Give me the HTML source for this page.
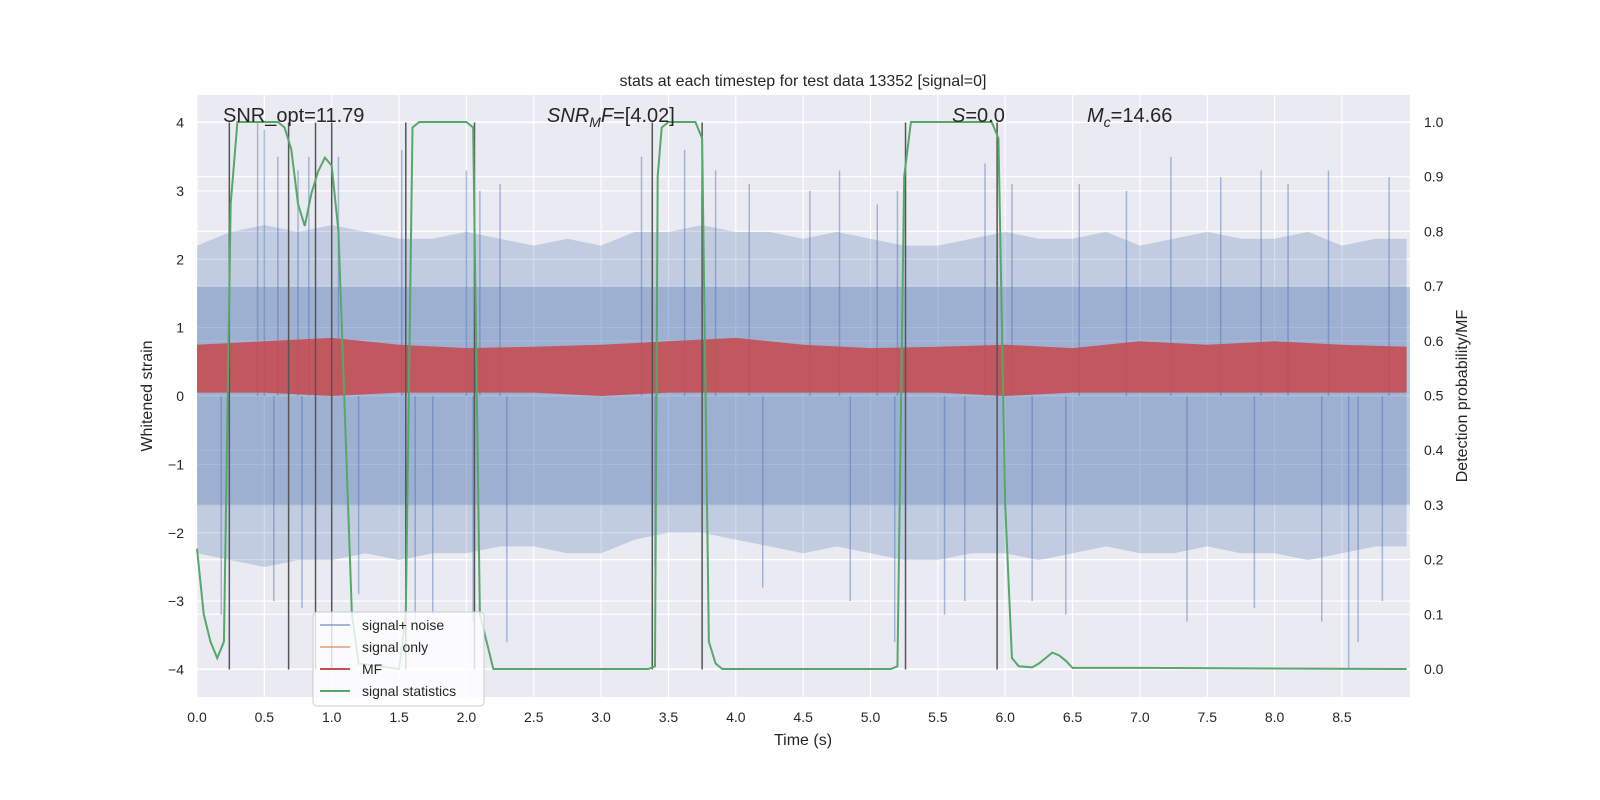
<!DOCTYPE html>
<html><head><meta charset="utf-8"><style>
html,body{margin:0;padding:0;background:#fff;overflow:hidden;width:100%;height:100%;}
svg{display:block;width:100vw;height:100vh;font-family:"Liberation Sans","DejaVu Sans",sans-serif;}
</style></head><body>
<svg id="chart" viewBox="0 0 1600 800" preserveAspectRatio="none">
<rect x="0" y="0" width="1600" height="800" fill="#ffffff"/>
<rect x="197" y="95" width="1213" height="602" fill="#eaeaf2"/>
<g id="grid"></g>
<g id="noise"></g>
<g id="mf"></g>
<g id="vlines"></g>
<g id="green"></g>
<g id="ticks"></g>
<text x="803" y="86" text-anchor="middle" font-size="16" fill="#262626">stats at each timestep for test data 13352 [signal=0]</text>
<text x="223" y="122" font-size="20" fill="#262626">SNR_opt=11.79</text>
<text x="547" y="122" font-size="20" fill="#262626"><tspan font-style="italic">SNR</tspan><tspan font-style="italic" font-size="14" dy="5">M</tspan><tspan font-style="italic" dy="-5">F</tspan>=[4.02]</text>
<text x="952" y="122" font-size="20" fill="#262626"><tspan font-style="italic">S</tspan>=0.0</text>
<text x="1087" y="122" font-size="20" fill="#262626"><tspan font-style="italic">M</tspan><tspan font-style="italic" font-size="14" dy="5">c</tspan><tspan dy="-5">=14.66</tspan></text>
<text transform="translate(152,396) rotate(-90)" text-anchor="middle" font-size="16" fill="#262626">Whitened strain</text>
<text transform="translate(1467,396) rotate(-90)" text-anchor="middle" font-size="16" fill="#262626">Detection probability/MF</text>
<text x="803" y="745" text-anchor="middle" font-size="16" fill="#262626">Time (s)</text>
<g>
<rect x="313" y="612" width="171" height="94" rx="4" fill="#ffffff" fill-opacity="0.8" stroke="#cccccc"/>
<line x1="320" y1="625" x2="350" y2="625" stroke="#4c72b0" stroke-opacity="0.5" stroke-width="2"/>
<text x="362" y="630" font-size="14" fill="#262626">signal+ noise</text>
<line x1="320" y1="647" x2="350" y2="647" stroke="#dd8452" stroke-opacity="0.6" stroke-width="2"/>
<text x="362" y="652" font-size="14" fill="#262626">signal only</text>
<line x1="320" y1="669" x2="350" y2="669" stroke="#c44e52" stroke-width="2"/>
<text x="362" y="674" font-size="14" fill="#262626">MF</text>
<line x1="320" y1="691" x2="350" y2="691" stroke="#55a868" stroke-width="2"/>
<text x="362" y="696" font-size="14" fill="#262626">signal statistics</text>
</g>
</svg>
<script>
// ---- data ----
const xTicks = [0,0.5,1,1.5,2,2.5,3,3.5,4,4.5,5,5.5,6,6.5,7,7.5,8,8.5];
const yTicks = [-4,-3,-2,-1,0,1,2,3,4];
const y2Ticks = [0,0.1,0.2,0.3,0.4,0.5,0.6,0.7,0.8,0.9,1.0];
const binStep = 0.25;
const noiseHi = [2.2,2.4,2.5,2.4,2.5,2.4,2.3,2.3,2.4,2.3,2.2,2.3,2.2,2.4,2.4,2.5,2.4,2.4,2.3,2.4,2.3,2.2,2.2,2.3,2.4,2.3,2.3,2.4,2.2,2.3,2.4,2.3,2.3,2.4,2.2,2.3,2.3];
const noiseLo = [-2.3,-2.4,-2.5,-2.4,-2.4,-2.3,-2.4,-2.3,-2.3,-2.2,-2.2,-2.3,-2.3,-2.1,-2.0,-2.0,-2.1,-2.2,-2.3,-2.2,-2.3,-2.4,-2.4,-2.3,-2.3,-2.4,-2.3,-2.2,-2.3,-2.3,-2.2,-2.3,-2.3,-2.4,-2.3,-2.2,-2.2];
const spikeT = [0.45,0.5,0.6,0.75,0.83,1.05,1.52,2.0,2.1,2.25,3.3,3.62,3.85,4.1,4.55,4.77,5.05,5.2,5.85,6.05,6.55,6.9,7.23,7.6,7.9,8.1,8.4,8.85,
 0.18,0.57,0.78,1.2,1.62,1.75,2.05,2.3,3.4,4.2,4.85,5.18,5.55,5.7,6.2,6.45,7.35,7.85,8.35,8.55,8.62,8.8];
const spikeV = [4.0,3.9,3.5,3.3,3.5,3.5,3.6,3.3,3.0,3.1,3.5,3.6,3.3,3.1,3.0,3.3,2.8,3.0,3.4,3.1,3.1,3.0,3.5,3.2,3.3,3.1,3.3,3.2,
 -3.2,-3.0,-3.1,-2.9,-3.3,-3.2,-3.3,-3.6,-2.5,-2.8,-3.0,-3.6,-3.2,-3.0,-3.0,-3.2,-3.3,-3.1,-3.3,-4.0,-3.6,-3.0];
const mfHi = [0.75,0.8,0.85,0.75,0.7,0.72,0.75,0.8,0.85,0.75,0.7,0.72,0.75,0.7,0.8,0.75,0.8,0.75,0.72];
const mfLo = [0.05,0.05,0.0,0.05,0.05,0.05,0.0,0.05,0.05,0.05,0.05,0.05,0.0,0.05,0.05,0.05,0.05,0.05,0.05];
const statT = [0,0.05,0.1,0.15,0.2,0.25,0.3,0.6,0.65,0.7,0.75,0.8,0.85,0.9,0.95,1.0,1.05,1.1,1.15,1.2,1.5,1.55,1.6,1.65,2.0,2.05,2.1,2.15,2.2,3.35,3.4,3.42,3.45,3.5,3.7,3.75,3.8,3.85,3.9,5.15,5.2,5.25,5.3,5.9,5.95,6.0,6.05,6.1,6.2,6.25,6.35,6.4,6.45,6.5,7.0,8.98];
const statV = [0.22,0.1,0.05,0.02,0.05,0.85,1.0,1.0,0.99,0.95,0.85,0.81,0.87,0.91,0.935,0.92,0.8,0.45,0.1,0.01,0.0,0.1,0.99,1.0,1.0,0.99,0.1,0.05,0.0,0.0,0.005,0.9,0.99,1.0,1.0,0.97,0.05,0.01,0.0,0.0,0.005,0.9,1.0,1.0,0.97,0.3,0.02,0.005,0.003,0.01,0.03,0.025,0.015,0.002,0.002,0.0];
const vlineT = [0.24,0.68,0.88,1.0,1.55,2.06,3.38,3.75,5.26,5.94];
// ---- axes ----
const X = t => 197 + t*134.7;
const Y = v => 396 - v*68.375;
const Y2 = p => 669 - p*547;
const NS = 'http://www.w3.org/2000/svg';
function mk(tag, attrs, parent){const e=document.createElementNS(NS,tag);for(const k in attrs)e.setAttribute(k,attrs[k]);document.getElementById(parent).appendChild(e);return e;}
xTicks.forEach(t=>{
 const l=mk('line',{x1:X(t),x2:X(t),y1:95,y2:697,stroke:'#fff','stroke-width':1.2},'grid');
 
 
 const tx=mk('text',{x:X(t),y:722,'text-anchor':'middle','font-size':14,fill:'#262626'},'ticks');
 tx.textContent=t.toFixed(1);
 
 
});
yTicks.forEach(v=>{
 const l=mk('line',{x1:197,x2:1410,y1:Y(v),y2:Y(v),stroke:'#fff','stroke-width':1.2},'grid');
 
 
 const tx=mk('text',{x:184,y:Y(v)+5,'text-anchor':'end','font-size':14,fill:'#262626'},'ticks');
 tx.textContent=v<0?'\u2212'+(-v):String(v);
 
 
});
y2Ticks.forEach(p=>{
 const l=mk('line',{x1:197,x2:1410,y1:Y2(p),y2:Y2(p),stroke:'#fff','stroke-width':1.2},'grid');
 
 
 const tx=mk('text',{x:1424,y:Y2(p)+5,'font-size':14,fill:'#262626'},'ticks');
 tx.textContent=p.toFixed(1);
 
 
});
// noise envelope
let pts=[];
noiseHi.forEach((v,i)=>pts.push(X(Math.min(i*binStep,8.98))+','+Y(v)));
for(let i=noiseLo.length-1;i>=0;i--)pts.push(X(Math.min(i*binStep,8.98))+','+Y(noiseLo[i]));
const env=mk('polygon',{points:pts.join(' '),fill:'#4c72b0','fill-opacity':0.25},'noise');


const core=mk('rect',{x:197,y:Y(1.6),width:1213,height:Y(-1.6)-Y(1.6),fill:'#4c72b0','fill-opacity':0.3},'noise');


spikeT.forEach((t,i)=>{
 const s=mk('line',{x1:X(t),x2:X(t),y1:Y(0),y2:Y(spikeV[i]),stroke:'#4c72b0','stroke-opacity':0.45,'stroke-width':1.5},'noise');
 
 
});
// MF band
pts=[];
mfHi.forEach((v,i)=>pts.push(X(Math.min(i*0.5,8.98))+','+Y(v)));
for(let i=mfLo.length-1;i>=0;i--)pts.push(X(Math.min(i*0.5,8.98))+','+Y(mfLo[i]));
const mf=mk('polygon',{points:pts.join(' '),fill:'#c44e52','fill-opacity':0.9},'mf');


// vertical lines
vlineT.forEach(t=>{
 const l=mk('line',{x1:X(t),x2:X(t),y1:Y(4),y2:Y(-4),stroke:'#555','stroke-width':1.5},'vlines');
 
 
});
// green
const g=mk('polyline',{points:statT.map((t,i)=>X(t)+','+Y2(statV[i])).join(' '),fill:'none',stroke:'#55a868','stroke-width':2},'green');


</script>
</body></html>
